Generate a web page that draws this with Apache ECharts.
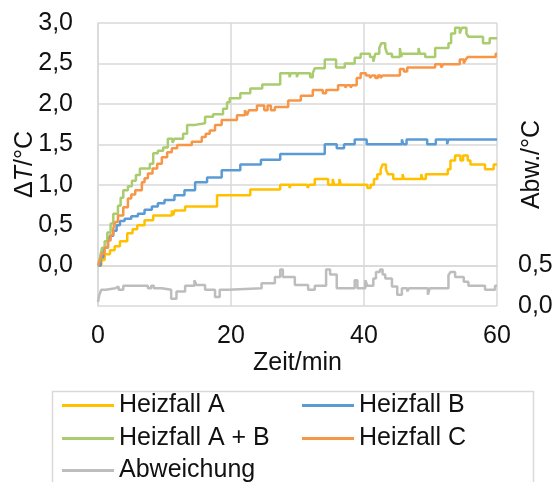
<!DOCTYPE html>
<html><head><meta charset="utf-8">
<script src="https://cdn.jsdelivr.net/npm/echarts@6/dist/echarts.min.js"></script>
<style>html,body{margin:0;padding:0;background:#fff}#c{width:558px;height:482px}</style>
</head><body><div id="c"></div>
<script>
// Breakpoints: [time (min), value] - value holds from that time on
const heizfallA = [[0,0],[0.5,0.07],[1.0,0.14],[1.8,0.19],[2.5,0.24],[3.3,0.30],[4.4,0.40],[5.2,0.45],[5.9,0.50],[7.0,0.56],[8.3,0.62],[11.1,0.68],[11.3,0.62],[11.5,0.68],[13.1,0.73],[17.9,0.87],[22.9,0.94],[27.4,1.00],[28.8,0.96],[29.0,1.00],[31.5,0.96],[31.8,1.00],[32.6,1.07],[34.6,1.00],[35.3,1.07],[35.5,1.00],[36.3,1.07],[36.5,1.00],[40.5,0.96],[41.0,1.00],[41.5,1.07],[42.0,1.13],[42.5,1.19],[42.8,1.25],[43.3,1.19],[43.6,1.13],[44.4,1.07],[45.8,1.13],[46.0,1.07],[48.6,1.13],[48.8,1.07],[49.3,1.13],[52.6,1.19],[53.0,1.30],[53.7,1.36],[54.5,1.30],[54.9,1.36],[55.6,1.30],[56.0,1.25],[58.2,1.19],[59.5,1.25],[60,1.25]];
const heizfallB = [[0,0],[0.4,0.10],[0.8,0.17],[1.05,0.22],[1.5,0.30],[1.8,0.37],[2.3,0.43],[2.8,0.50],[3.3,0.55],[4.0,0.58],[5.0,0.61],[6.0,0.64],[7.0,0.69],[8.1,0.73],[9.0,0.77],[10.0,0.81],[11.5,0.87],[13.0,0.93],[14.6,1.03],[16.4,1.09],[18.6,1.18],[21.4,1.25],[24.5,1.31],[27.4,1.38],[34.1,1.50],[35.9,1.45],[37.0,1.50],[38.6,1.56],[40.4,1.50],[45.7,1.56],[45.9,1.50],[46.4,1.56],[49.5,1.50],[50.8,1.56],[52.5,1.50],[52.7,1.56],[60,1.56]];
const heizfallAB = [[0,0],[0.3,0.10],[0.6,0.22],[1.0,0.30],[1.4,0.41],[1.9,0.52],[2.3,0.64],[3.0,0.74],[3.4,0.84],[3.8,0.93],[4.5,0.98],[5.1,1.05],[5.7,1.12],[6.3,1.20],[7.8,1.26],[8.3,1.39],[9.0,1.42],[9.8,1.46],[10.5,1.57],[11.2,1.52],[11.5,1.57],[12.8,1.63],[13.4,1.74],[14.6,1.76],[16.1,1.84],[17.3,1.87],[18.8,1.94],[19.4,2.02],[19.8,2.07],[21.4,2.13],[22.9,2.19],[24.7,2.24],[27.4,2.38],[28.8,2.33],[29.0,2.38],[29.9,2.33],[30.1,2.38],[31.9,2.33],[32.3,2.38],[32.6,2.44],[34.1,2.55],[35.8,2.45],[37.1,2.50],[38.6,2.57],[39.5,2.62],[40.9,2.58],[41.4,2.52],[41.7,2.62],[42.3,2.69],[42.6,2.75],[43.2,2.69],[43.5,2.62],[44.2,2.58],[45.4,2.69],[45.6,2.58],[45.7,2.62],[48.2,2.69],[48.4,2.62],[49.2,2.58],[50.7,2.69],[52.7,2.75],[53.1,2.87],[53.7,2.94],[54.4,2.87],[54.7,2.94],[55.4,2.87],[55.7,2.83],[57.9,2.75],[58.9,2.81],[60,2.81]];
const heizfallC = [[0,0],[0.3,0.06],[0.6,0.15],[1.0,0.22],[1.5,0.31],[1.9,0.38],[2.3,0.46],[2.6,0.54],[3.0,0.62],[3.8,0.72],[4.5,0.83],[5.0,0.88],[5.6,0.93],[6.6,1.03],[7.0,1.08],[7.5,1.14],[8.2,1.20],[8.9,1.26],[9.6,1.34],[10.4,1.40],[11.1,1.45],[11.9,1.49],[14.1,1.53],[15.6,1.59],[16.2,1.63],[16.8,1.67],[17.6,1.74],[18.6,1.80],[20.9,1.86],[22.1,1.92],[22.4,1.86],[22.7,1.92],[23.9,1.98],[25.0,1.92],[25.5,1.98],[26.0,1.92],[26.6,1.96],[28.6,2.04],[30.5,2.10],[32.3,2.17],[33.8,2.13],[34.3,2.17],[36.1,2.23],[37.2,2.20],[37.4,2.23],[38.0,2.20],[38.2,2.23],[38.9,2.32],[39.5,2.38],[40.3,2.35],[40.9,2.32],[41.2,2.35],[41.7,2.32],[42.1,2.35],[42.5,2.32],[42.8,2.35],[45.4,2.43],[46.0,2.40],[46.5,2.45],[50.7,2.49],[51.6,2.45],[51.9,2.49],[54.4,2.55],[55.0,2.50],[55.3,2.55],[55.6,2.58],[59.8,2.62],[60,2.62]];
const abweichung = [[0,0.05],[0.2,0.14],[0.5,0.20],[1.2,0.22],[2.6,0.20],[2.9,0.24],[3.1,0.20],[3.8,0.25],[7.5,0.22],[8.0,0.25],[8.4,0.22],[9.6,0.20],[11.0,0.09],[11.8,0.18],[13.1,0.25],[14.5,0.32],[14.8,0.26],[16.1,0.20],[17.6,0.11],[18.3,0.20],[19.6,0.22],[24.6,0.28],[26.6,0.36],[27.4,0.45],[27.8,0.36],[29.6,0.26],[31.6,0.20],[32.6,0.25],[34.3,0.45],[34.9,0.39],[35.9,0.22],[38.6,0.32],[39.0,0.22],[40.2,0.32],[40.5,0.25],[41.4,0.34],[41.8,0.42],[42.4,0.45],[42.8,0.39],[43.2,0.34],[44.2,0.24],[45.0,0.14],[45.7,0.22],[46.5,0.18],[46.8,0.22],[49.6,0.14],[49.9,0.22],[52.7,0.38],[53.0,0.42],[53.7,0.36],[55.0,0.30],[55.7,0.25],[58.2,0.20],[59.7,0.25],[60,0.25]];

const seriesNames = ['Heizfall A','Heizfall B','Heizfall A + B','Heizfall C','Abweichung'];
const seriesColors = ['#FFC000','#5B9BD5','#A9CC6E','#F79646','#BDBDBD'];
const xTicks = [0,20,40,60];
const leftTicks = ['0,0','0,5','1,0','1,5','2,0','2,5','3,0'];
const rightTicks = ['0,0','0,5'];

const FONT = '"Liberation Sans", Arial, sans-serif';
const GRID = '#D9D9D9';
const TXT = '#111';
const fmt = v => v.toFixed(1).replace('.', ',');

const chart = echarts.init(document.getElementById('c'), null, {renderer:'canvas'});
const datasets = [heizfallA, heizfallB, heizfallAB, heizfallC, abweichung];
const legendPos = [[62,393],[302,393],[62,426],[302,426],[62,458]];

chart.setOption({
  animation:false,
  textStyle:{fontFamily:FONT},
  grid:{left:98, right:61, top:23, bottom:176, containLabel:false, outerBoundsMode:'none'},
  xAxis:{type:'value', min:0, max:60, interval:20,
    name:'Zeit/min', nameLocation:'middle', nameGap:45, nameMoveOverlap:false,
    nameTextStyle:{fontSize:25, color:TXT, fontFamily:FONT},
    axisLine:{show:true, lineStyle:{color:GRID, width:1.5}},
    axisTick:{show:false},
    axisLabel:{fontSize:25, color:TXT, margin:18, fontFamily:FONT,
      formatter: v => xTicks.indexOf(v) >= 0 ? String(v) : ''},
    splitLine:{show:true, lineStyle:{color:GRID, width:1.5}}},
  yAxis:[
    {type:'value', min:-0.5, max:3, interval:0.5, position:'left',
      name:'{n|Δ}{i|T}{n|/°C}', nameLocation:'middle', nameGap:60, nameRotate:90, nameMoveOverlap:false,
      nameTextStyle:{color:TXT, fontFamily:FONT, rich:{n:{fontSize:25, color:TXT, fontFamily:FONT}, i:{fontSize:25, color:TXT, fontStyle:'italic', fontFamily:FONT}}},
      axisLine:{show:true, lineStyle:{color:GRID, width:1.5}},
      axisTick:{show:false},
      axisLabel:{fontSize:25, color:TXT, margin:25, fontFamily:FONT,
        formatter: v => { const s = fmt(v); return v < -1e-9 ? '' : (leftTicks.indexOf(s) >= 0 ? s : ''); }},
      splitLine:{show:true, lineStyle:{color:GRID, width:1.5}}},
    {type:'value', min:0, max:3.5, interval:0.5, position:'right',
      name:'Abw./°C', nameLocation:'middle', nameGap:23, nameRotate:90, nameMoveOverlap:false,
      nameTextStyle:{fontSize:25, color:TXT, fontFamily:FONT},
      axisLine:{show:false}, axisTick:{show:false},
      axisLabel:{fontSize:25, color:TXT, margin:21, fontFamily:FONT,
        formatter: v => { const s = fmt(v); return rightTicks.indexOf(s) >= 0 ? s : ''; }},
      splitLine:{show:false}}
  ],
  legend: seriesNames.map((n,i)=>({
    data:[{name:n, icon:'rect'}], left:legendPos[i][0], top:legendPos[i][1],
    padding:0, itemWidth:52, itemHeight:3, itemGap:0,
    textStyle:{fontSize:25, color:TXT, fontFamily:FONT}, selectedMode:false
  })),
  graphic:[{type:'rect', left:50, top:389, shape:{width:481, height:120},
    style:{fill:'none', stroke:GRID, lineWidth:1.5}, silent:true}],
  series: seriesNames.map((n,i)=>({
    name:n, type:'line', step:'end', showSymbol:false, symbol:'none',
    yAxisIndex: i===4 ? 1 : 0,
    data: datasets[i],
    lineStyle:{color:seriesColors[i], width:2.5},
    itemStyle:{color:seriesColors[i]},
    z: [3,4,5,6,2][i]
  }))
});
</script></body></html>
